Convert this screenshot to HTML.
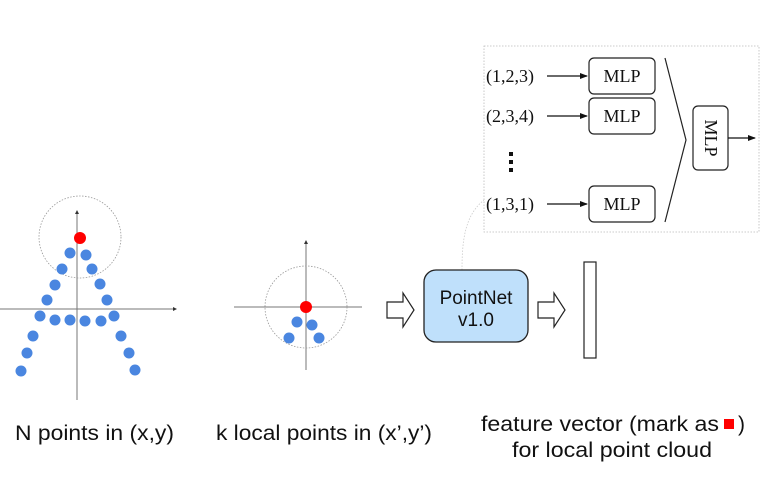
<!DOCTYPE html>
<html><head><meta charset="utf-8"><style>
html,body{margin:0;padding:0;background:#fff;}
svg{display:block;}
.s{font-family:"Liberation Sans",sans-serif;font-size:21px;fill:#111;}
.t{font-family:"Liberation Serif",serif;font-size:18px;fill:#111;}
</style></head><body>
<svg width="781" height="479" viewBox="0 0 781 479" xmlns="http://www.w3.org/2000/svg">
<defs>
<marker id="a" markerWidth="8" markerHeight="6" refX="7" refY="3" orient="auto" markerUnits="userSpaceOnUse"><path d="M0,0 L8,3 L0,6 Z" fill="#111"/></marker>
<marker id="b" markerWidth="4" markerHeight="4" refX="3" refY="2" orient="auto" markerUnits="userSpaceOnUse"><path d="M0,0 L4,2 L0,4 Z" fill="#333"/></marker>
</defs>
<line x1="0" y1="309" x2="176" y2="309" stroke="#777" stroke-width="1" marker-end="url(#b)"/>
<line x1="77" y1="400" x2="77" y2="211" stroke="#777" stroke-width="1" marker-end="url(#b)"/>
<circle cx="80" cy="237" r="41" fill="none" stroke="#999" stroke-width="0.8" stroke-dasharray="1.5,1.5"/>
<g fill="#4a86e0">
<circle cx="70" cy="253" r="5.5"/><circle cx="86" cy="255" r="5.5"/>
<circle cx="62" cy="269" r="5.5"/><circle cx="92" cy="269" r="5.5"/>
<circle cx="55" cy="285" r="5.5"/><circle cx="100" cy="284" r="5.5"/>
<circle cx="47" cy="300" r="5.5"/><circle cx="107" cy="300" r="5.5"/>
<circle cx="40" cy="316" r="5.5"/><circle cx="55" cy="320" r="5.5"/><circle cx="70" cy="320" r="5.5"/><circle cx="85" cy="321" r="5.5"/><circle cx="101" cy="321" r="5.5"/><circle cx="114" cy="316" r="5.5"/>
<circle cx="33" cy="336" r="5.5"/><circle cx="121" cy="336" r="5.5"/>
<circle cx="27" cy="353" r="5.5"/><circle cx="129" cy="353" r="5.5"/>
<circle cx="21" cy="371" r="5.5"/><circle cx="135" cy="370" r="5.5"/>
</g>
<circle cx="80" cy="238" r="6" fill="#f00"/>
<line x1="234" y1="307" x2="362" y2="307" stroke="#777" stroke-width="1"/>
<line x1="306" y1="370" x2="306" y2="241" stroke="#777" stroke-width="1" marker-end="url(#b)"/>
<circle cx="306" cy="307" r="41" fill="none" stroke="#999" stroke-width="0.8" stroke-dasharray="1.5,1.5"/>
<g fill="#4a86e0">
<circle cx="297" cy="322" r="5.5"/><circle cx="312" cy="325" r="5.5"/>
<circle cx="289" cy="338" r="5.5"/><circle cx="319" cy="338" r="5.5"/>
</g>
<circle cx="306" cy="307" r="6" fill="#f00"/>
<path d="M387,302 H403 V293 L414,310 L403,327 V318 H387 Z" fill="#fff" stroke="#222" stroke-width="1.2"/>
<path d="M538,302 H554 V293 L565,310 L554,327 V318 H538 Z" fill="#fff" stroke="#222" stroke-width="1.2"/>
<path d="M462,270 C462,240 465,215 484,200" fill="none" stroke="#ccc" stroke-width="0.8" stroke-dasharray="1.5,1.5"/>
<rect x="424" y="270" width="104" height="72" rx="12" fill="#bfe0fb" stroke="#222" stroke-width="1.3"/>
<text class="s" x="476" y="304" text-anchor="middle" style="font-size:19px">PointNet</text>
<text class="s" x="476" y="326" text-anchor="middle" style="font-size:19px">v1.0</text>
<rect x="584" y="262" width="12" height="96" fill="#fff" stroke="#222" stroke-width="1.2"/>
<rect x="484" y="46" width="275" height="186" fill="#fff" stroke="#bbb" stroke-width="0.8" stroke-dasharray="1.5,1.5"/>
<text class="t" x="486" y="82">(1,2,3)</text>
<text class="t" x="486" y="122">(2,3,4)</text>
<text class="t" x="486" y="210">(1,3,1)</text>
<g fill="#111"><rect x="509" y="152" width="4" height="4"/><rect x="509" y="160" width="4" height="4"/><rect x="509" y="168" width="4" height="4"/></g>
<line x1="547" y1="76" x2="587" y2="76" stroke="#111" stroke-width="1.2" marker-end="url(#a)"/>
<line x1="547" y1="116" x2="587" y2="116" stroke="#111" stroke-width="1.2" marker-end="url(#a)"/>
<line x1="547" y1="204" x2="587" y2="204" stroke="#111" stroke-width="1.2" marker-end="url(#a)"/>
<g fill="#fff" stroke="#222" stroke-width="1.2">
<rect x="589" y="58" width="66" height="36" rx="5"/>
<rect x="589" y="98" width="66" height="36" rx="5"/>
<rect x="589" y="186" width="66" height="36" rx="5"/>
<rect x="693" y="106" width="35" height="64" rx="5"/>
</g>
<text class="t" x="622" y="82" text-anchor="middle" style="font-size:18px">MLP</text>
<text class="t" x="622" y="122" text-anchor="middle" style="font-size:18px">MLP</text>
<text class="t" x="622" y="210" text-anchor="middle" style="font-size:18px">MLP</text>
<text class="t" x="0" y="0" text-anchor="middle" style="font-size:18px" transform="translate(705,138) rotate(90)">MLP</text>
<polyline points="665,58 686,140 665,222" fill="none" stroke="#222" stroke-width="1.2"/>
<line x1="728" y1="138" x2="755" y2="138" stroke="#111" stroke-width="1.2" marker-end="url(#a)"/>
<text class="s" x="15" y="440" textLength="159" lengthAdjust="spacingAndGlyphs">N points in (x,y)</text>
<text class="s" x="216" y="440" textLength="216" lengthAdjust="spacingAndGlyphs">k local points in (x’,y’)</text>
<text class="s" x="481" y="431" textLength="238" lengthAdjust="spacingAndGlyphs">feature vector (mark as</text>
<rect x="724" y="419" width="10" height="10" fill="#f00"/>
<text class="s" x="738" y="431">)</text>
<text class="s" x="512" y="457" textLength="200" lengthAdjust="spacingAndGlyphs">for local point cloud</text>
</svg>
</body></html>
